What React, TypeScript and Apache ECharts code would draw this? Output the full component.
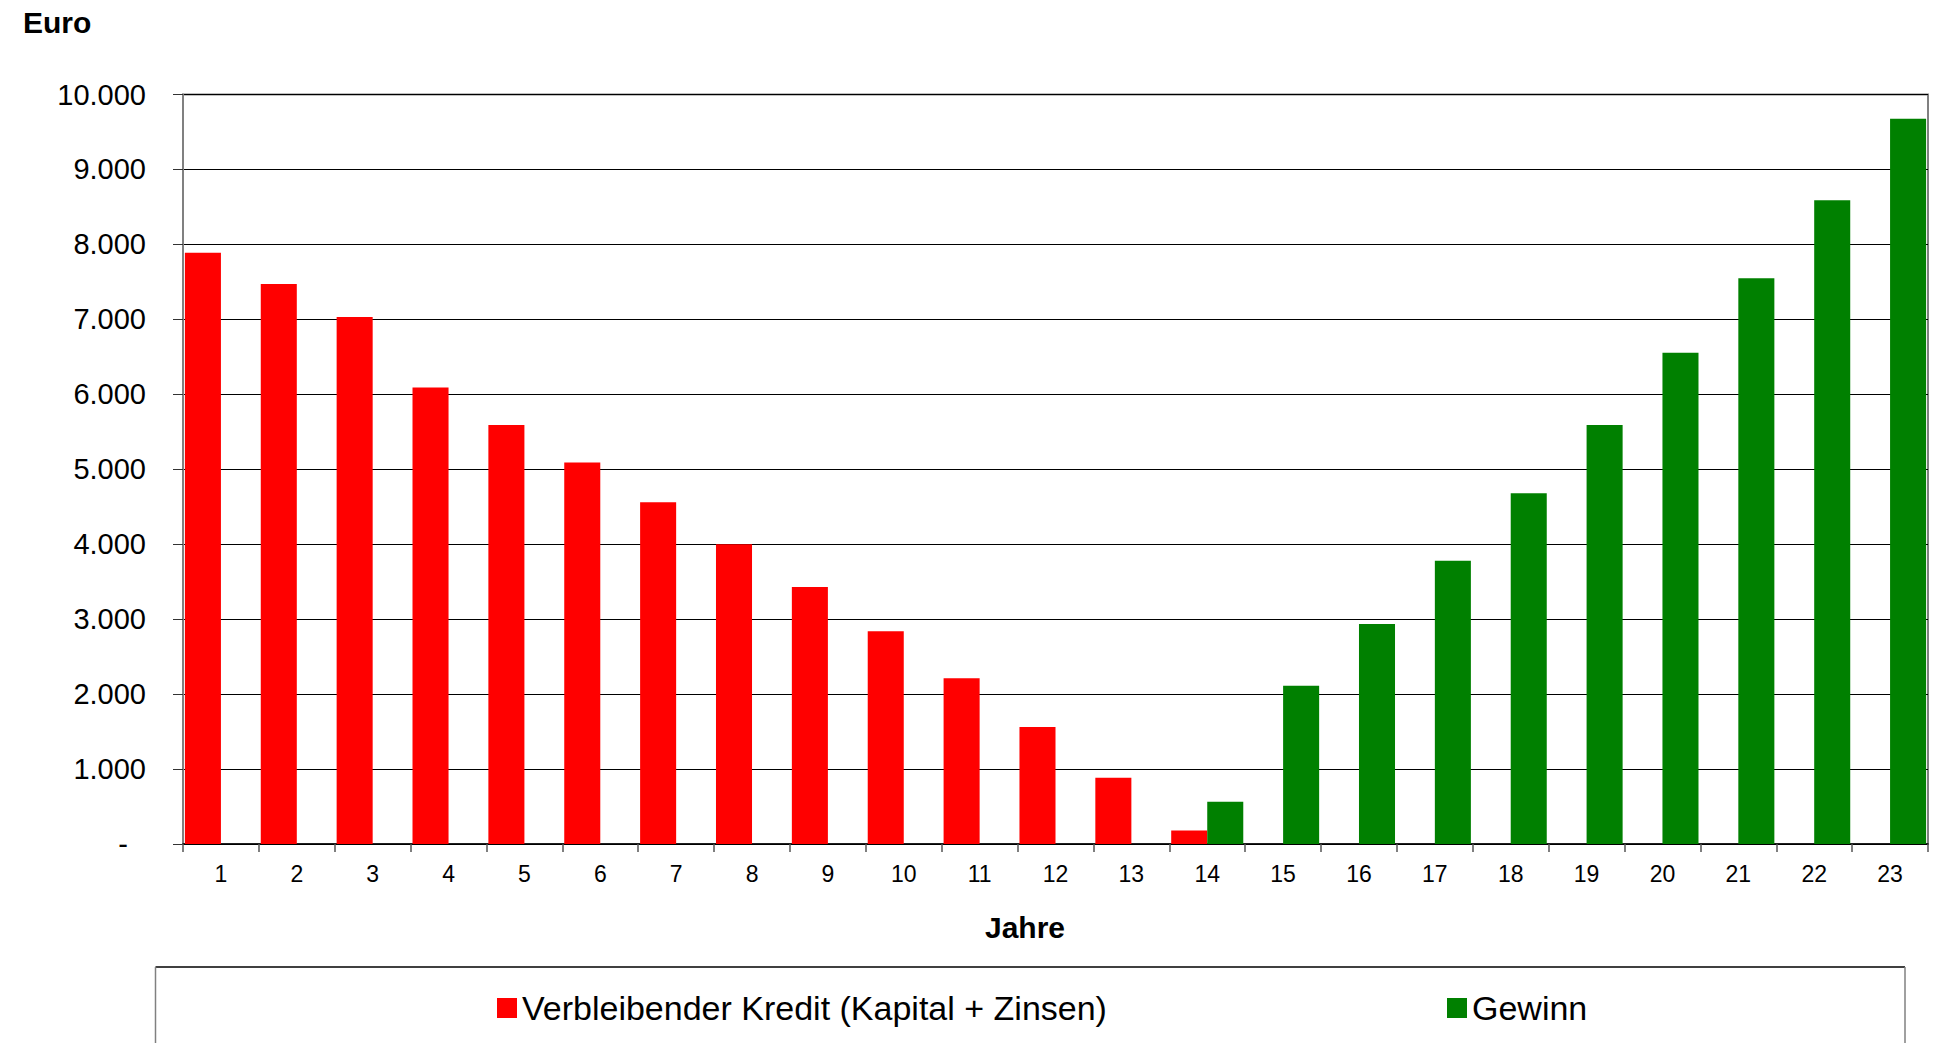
import React, { useEffect, useRef } from "react";
import * as echarts from "echarts";

const years = ["1","2","3","4","5","6","7","8","9","10","11","12","13","14","15","16","17","18","19","20","21","22","23"];
const kredit = [7890, 7470, 7030, 6090, 5590, 5090, 4560, 4000, 3430, 2840, 2210, 1560, 885, 180, 0, 0, 0, 0, 0, 0, 0, 0, 0];
const gewinn = [0, 0, 0, 0, 0, 0, 0, 0, 0, 0, 0, 0, 0, 565, 2110, 2935, 3780, 4680, 5590, 6555, 7550, 8590, 9675];
const seriesNames = ["Verbleibender Kredit (Kapital + Zinsen)", "Gewinn"];
const yAxisTitle = "Euro";
const xAxisTitle = "Jahre";

const FONT = "'Liberation Sans', Arial, sans-serif";

function fmt(v: number): string {
  if (v === 0) return "{d|-}";
  const s = String(Math.round(v));
  return s.replace(/\B(?=(\d{3})+(?!\d))/g, ".");
}

export default function App() {
  const ref = useRef<HTMLDivElement>(null);
  useEffect(() => {
    if (!ref.current) return;
    const chart = echarts.init(ref.current, null, { renderer: "svg" });
    chart.setOption({
      animation: false,
      backgroundColor: "#ffffff",
      textStyle: { fontFamily: FONT },
      grid: {
        left: 183,
        right: 22,
        top: 94.5,
        bottom: 199,
        show: true,
        borderColor: "#808080",
        borderWidth: 2,
        containLabel: false,
      },
      legend: [
        {
          data: [seriesNames[0]],
          left: 497,
          top: 991,
          padding: 0,
          itemWidth: 20,
          itemHeight: 20,
          itemGap: 0,
          icon: "rect",
          textStyle: { fontSize: 34, color: "#000", fontFamily: FONT },
          selectedMode: false,
        },
        {
          data: [seriesNames[1]],
          left: 1447,
          top: 991,
          padding: 0,
          itemWidth: 20,
          itemHeight: 20,
          itemGap: 0,
          icon: "rect",
          textStyle: { fontSize: 34, color: "#000", fontFamily: FONT },
          selectedMode: false,
        },
      ],
      xAxis: {
        type: "category",
        data: years,
        axisLine: { show: true, lineStyle: { color: "#000", width: 1.5 } },
        axisTick: { show: true, length: 8, lineStyle: { color: "#555", width: 1.5 } },
        axisLabel: { color: "#000", fontSize: 23, margin: 18, fontFamily: FONT },
        splitLine: { show: false },
      },
      yAxis: {
        type: "value",
        min: 0,
        max: 10000,
        interval: 1000,
        axisLine: { show: true, lineStyle: { color: "#808080", width: 2 } },
        axisTick: { show: true, length: 10, lineStyle: { color: "#333", width: 1 } },
        axisLabel: {
          color: "#000",
          fontSize: 29,
          margin: 37,
          fontFamily: FONT,
          formatter: fmt,
          rich: { d: { fontSize: 29, color: "#000", padding: [0, 18, 0, 0], fontFamily: FONT } },
        },
        splitLine: { show: true, lineStyle: { color: "#000", width: 1 } },
      },
      graphic: [
        {
          type: "text",
          left: 23,
          top: 7,
          style: { text: yAxisTitle, font: `bold 30px ${FONT}`, fill: "#000" },
        },
        {
          type: "text",
          x: 1025,
          y: 927,
          style: { text: xAxisTitle, font: `bold 30px ${FONT}`, fill: "#000", align: "center", verticalAlign: "middle" },
        },
        { type: "line", shape: { x1: 155.5, y1: 967, x2: 1905, y2: 967 }, style: { stroke: "#000", lineWidth: 1.5 } },
        { type: "line", shape: { x1: 155.5, y1: 967, x2: 155.5, y2: 1043 }, style: { stroke: "#808080", lineWidth: 1.5 } },
        { type: "line", shape: { x1: 1905, y1: 967, x2: 1905, y2: 1043 }, style: { stroke: "#808080", lineWidth: 1.5 } },
      ],
      series: [
        {
          name: seriesNames[0],
          type: "bar",
          data: kredit,
          itemStyle: { color: "#FF0000" },
          barGap: "0%",
          barCategoryGap: "5%",
        },
        {
          name: seriesNames[1],
          type: "bar",
          data: gewinn,
          itemStyle: { color: "#008000" },
          barGap: "0%",
          barCategoryGap: "5%",
        },
      ],
    });
    return () => chart.dispose();
  }, []);
  return (
    <div
      ref={ref}
      style={{ position: "absolute", left: 0, top: 0, width: 1950, height: 1043 }}
    />
  );
}
